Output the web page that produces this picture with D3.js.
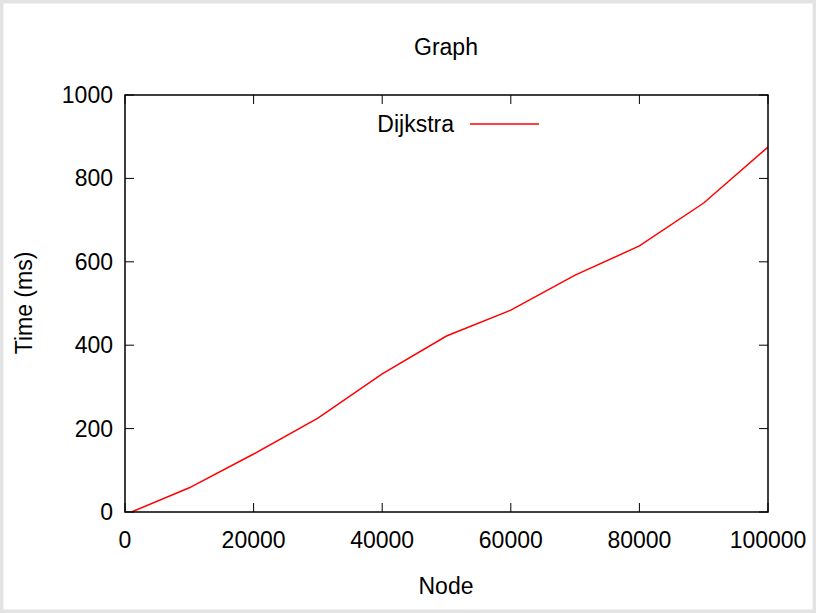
<!DOCTYPE html>
<html><head><meta charset="utf-8">
<script src="https://cdn.jsdelivr.net/npm/d3@7"></script>
<style>body{margin:0;background:#fff}svg{display:block}</style>
</head><body>
<script>
const nodes = [1000, 10000, 20000, 30000, 40000, 50000, 60000, 70000, 80000, 90000, 100000];
const times = [0, 58, 139, 225, 331, 422, 484, 568, 638, 741, 875];
const xTicks = [0, 20000, 40000, 60000, 80000, 100000];
const yTicks = [0, 200, 400, 600, 800, 1000];

const W = 816, H = 613;
const L = 125, R = 768, T = 95, B = 512;
const FONT = "Arial, 'Liberation Sans', sans-serif";
const FS = 23;

const svg = d3.select("body").append("svg").attr("width", W).attr("height", H);

const x = d3.scaleLinear().domain([0, 100000]).range([L, R]);
const y = d3.scaleLinear().domain([0, 1000]).range([B, T]);

const txt = (xx, yy, s, anchor) => svg.append("text").attr("x", xx).attr("y", yy)
  .attr("text-anchor", anchor).attr("font-family", FONT).attr("font-size", FS).attr("fill", "#000").text(s);

xTicks.forEach((v) => txt(x(v), B + 36, v, "middle"));
yTicks.forEach((v) => txt(L - 12, y(v) + 8, v, "end"));

const tickLen = 9;
const g = svg.append("g").attr("stroke", "#000").attr("stroke-width", 1);
xTicks.forEach((v) => {
  g.append("line").attr("x1", x(v)).attr("x2", x(v)).attr("y1", B).attr("y2", B - tickLen);
  g.append("line").attr("x1", x(v)).attr("x2", x(v)).attr("y1", T).attr("y2", T + tickLen);
});
yTicks.forEach((v) => {
  g.append("line").attr("x1", L).attr("x2", L + tickLen).attr("y1", y(v)).attr("y2", y(v));
  g.append("line").attr("x1", R).attr("x2", R - tickLen).attr("y1", y(v)).attr("y2", y(v));
});

const line = d3.line().x((d, i) => x(nodes[i])).y((d) => y(d));
svg.append("path").datum(times).attr("d", line).attr("fill", "none").attr("stroke", "#ff0000").attr("stroke-width", 1.5);

svg.append("rect").attr("x", L).attr("y", T).attr("width", R - L).attr("height", B - T)
  .attr("fill", "none").attr("stroke", "#000").attr("stroke-width", 1.5);

txt(446, 55, "Graph", "middle");
txt(446, 594, "Node", "middle");
svg.append("text").attr("transform", "translate(32,303) rotate(-90)").attr("text-anchor", "middle")
  .attr("font-family", FONT).attr("font-size", FS).text("Time (ms)");

txt(454, 132, "Dijkstra", "end");
svg.append("line").attr("x1", 470).attr("x2", 539).attr("y1", 124).attr("y2", 124)
  .attr("stroke", "#ff0000").attr("stroke-width", 1.5);

// outer frame drawn last so clipped tick label sits under it
svg.append("rect").attr("x", 1.5).attr("y", 1.5).attr("width", W - 3).attr("height", H - 3)
  .attr("fill", "none").attr("stroke", "#e3e3e3").attr("stroke-width", 4);
</script>
</body></html>
